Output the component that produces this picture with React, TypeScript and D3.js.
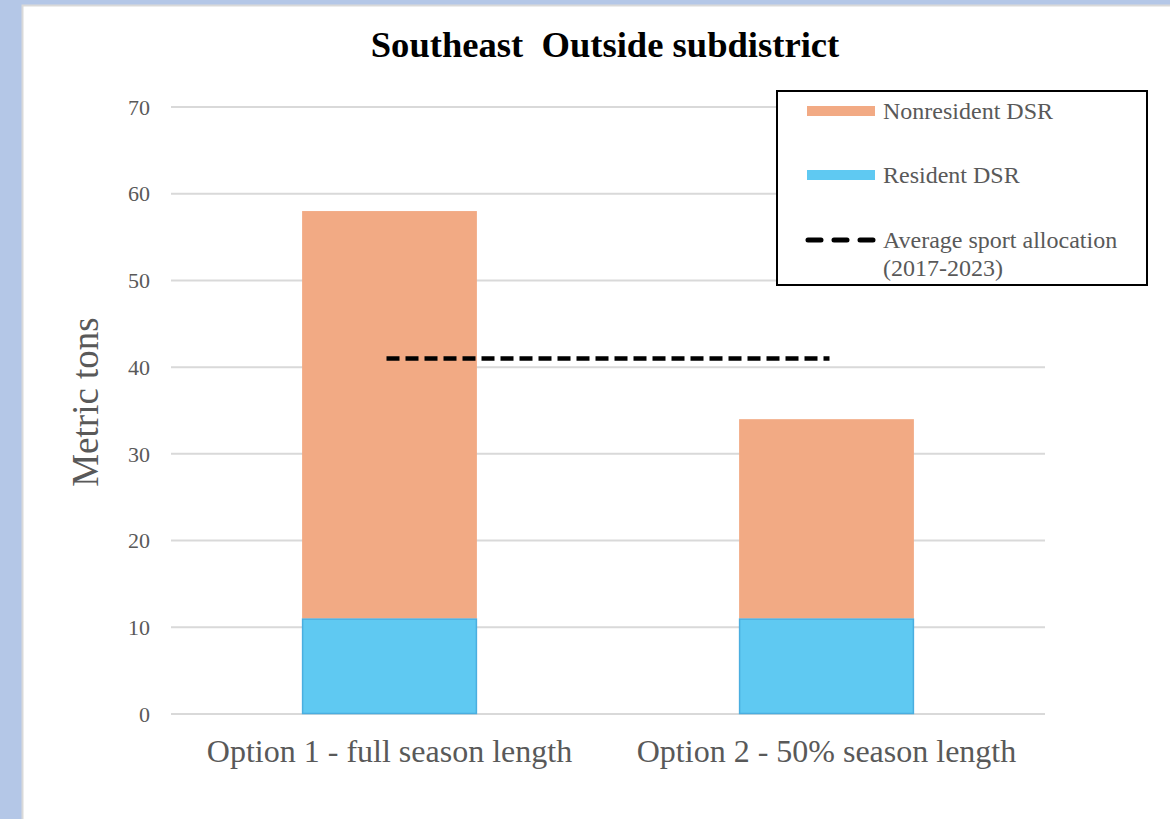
import React, { useEffect, useRef } from 'react';
import * as d3 from 'd3';

const categories = ['Option 1 - full season length', 'Option 2 - 50% season length'];
const residentDSR = [11, 11];
const nonresidentDSR = [47, 23];
const avgSportAllocation = 41;
const yTicks = [0, 10, 20, 30, 40, 50, 60, 70];

export default function App() {
  const svgRef = useRef<SVGSVGElement | null>(null);

  useEffect(() => {
    const svg = d3.select(svgRef.current!);
    svg.selectAll('*').remove();
    const font = '"Liberation Serif", "Times New Roman", serif';
    const margin = { top: 107, right: 125, bottom: 105, left: 171 };
    const W = 1170;
    const H = 819;

    // page frame
    svg.append('rect').attr('width', W).attr('height', H).attr('fill', '#b4c7e7');
    svg
      .append('rect')
      .attr('x', 22.5)
      .attr('y', 5.5)
      .attr('width', W)
      .attr('height', H)
      .attr('fill', '#fff')
      .attr('stroke', '#d9d9d9')
      .attr('stroke-width', 2);

    const x = d3
      .scaleBand<string>()
      .domain(categories)
      .range([margin.left, W - margin.right])
      .paddingInner(0.6)
      .paddingOuter(0.3);
    const y = d3.scaleLinear().domain([0, 70]).range([H - margin.bottom, margin.top]);

    // grid
    const grid = svg.append('g');
    grid
      .selectAll('line')
      .data(yTicks)
      .join('line')
      .attr('x1', margin.left)
      .attr('x2', W - margin.right)
      .attr('y1', (d) => y(d))
      .attr('y2', (d) => y(d))
      .attr('stroke', '#d9d9d9')
      .attr('stroke-width', 2);
    grid
      .selectAll('text')
      .data(yTicks)
      .join('text')
      .attr('x', 150)
      .attr('y', (d) => y(d))
      .attr('dy', '0.35em')
      .attr('text-anchor', 'end')
      .attr('font-family', font)
      .attr('font-size', 22)
      .attr('fill', '#595959')
      .text((d) => d);

    // bars
    const bars = svg.append('g');
    categories.forEach((c, i) => {
      bars
        .append('rect')
        .attr('x', x(c)!)
        .attr('width', x.bandwidth())
        .attr('y', y(residentDSR[i] + nonresidentDSR[i]))
        .attr('height', y(residentDSR[i]) - y(residentDSR[i] + nonresidentDSR[i]))
        .attr('fill', '#f2aa84');
      bars
        .append('rect')
        .attr('x', x(c)! + 0.5)
        .attr('width', x.bandwidth() - 1)
        .attr('y', y(residentDSR[i]) + 0.5)
        .attr('height', y(0) - y(residentDSR[i]) - 1)
        .attr('fill', '#5fc9f2')
        .attr('stroke', '#4aaee0')
        .attr('stroke-width', 1.5);
    });

    // average line
    const x0 = x(categories[0])! + x.bandwidth() / 2;
    const x1 = x(categories[1])! + x.bandwidth() / 2;
    svg
      .append('line')
      .attr('x1', x0 - 3)
      .attr('x2', x1 + 3)
      .attr('y1', y(avgSportAllocation))
      .attr('y2', y(avgSportAllocation))
      .attr('stroke', '#000')
      .attr('stroke-width', 4.5)
      .attr('stroke-dasharray', '13,6');

    // x labels
    svg
      .append('g')
      .selectAll('text')
      .data(categories)
      .join('text')
      .attr('x', (d) => x(d)! + x.bandwidth() / 2)
      .attr('y', 762)
      .attr('text-anchor', 'middle')
      .attr('font-family', font)
      .attr('font-size', 32)
      .attr('fill', '#595959')
      .text((d) => d);

    // y label
    svg
      .append('text')
      .attr('transform', `translate(98,402) rotate(-90)`)
      .attr('text-anchor', 'middle')
      .attr('font-family', font)
      .attr('font-size', 37)
      .attr('fill', '#595959')
      .text('Metric tons');

    // title
    svg
      .append('text')
      .attr('x', 605)
      .attr('y', 57)
      .attr('text-anchor', 'middle')
      .attr('font-family', font)
      .attr('font-size', 36.6)
      .attr('font-weight', 'bold')
      .attr('fill', '#000')
      .style('white-space', 'pre')
      .text('Southeast  Outside subdistrict');

    // legend
    const lg = svg.append('g');
    lg.append('rect')
      .attr('x', 777)
      .attr('y', 91)
      .attr('width', 370)
      .attr('height', 194)
      .attr('fill', '#fff')
      .attr('stroke', '#000')
      .attr('stroke-width', 2);
    const items = [
      { label: ['Nonresident DSR'], color: '#f2aa84', y: 111, dash: false },
      { label: ['Resident DSR'], color: '#5fc9f2', y: 175, dash: false },
      { label: ['Average sport allocation', '(2017-2023)'], color: '#000', y: 240, dash: true },
    ];
    items.forEach((it) => {
      if (it.dash) {
        lg.append('line')
          .attr('x1', 808)
          .attr('x2', 875)
          .attr('y1', it.y)
          .attr('y2', it.y)
          .attr('stroke', '#000')
          .attr('stroke-width', 5)
          .attr('stroke-linecap', 'round')
          .attr('stroke-dasharray', '13,13');
      } else {
        lg.append('rect')
          .attr('x', 807)
          .attr('y', it.y - 5)
          .attr('width', 68)
          .attr('height', 10)
          .attr('fill', it.color);
      }
      it.label.forEach((t, j) => {
        lg.append('text')
          .attr('x', 883)
          .attr('y', it.y + j * 28)
          .attr('dy', '0.35em')
          .attr('font-family', font)
          .attr('font-size', 24)
          .attr('fill', '#595959')
          .text(t);
      });
    });
  }, []);

  return (
    <svg
      ref={svgRef}
      width={1170}
      height={819}
      style={{ position: 'absolute', left: 0, top: 0, display: 'block' }}
    />
  );
}
